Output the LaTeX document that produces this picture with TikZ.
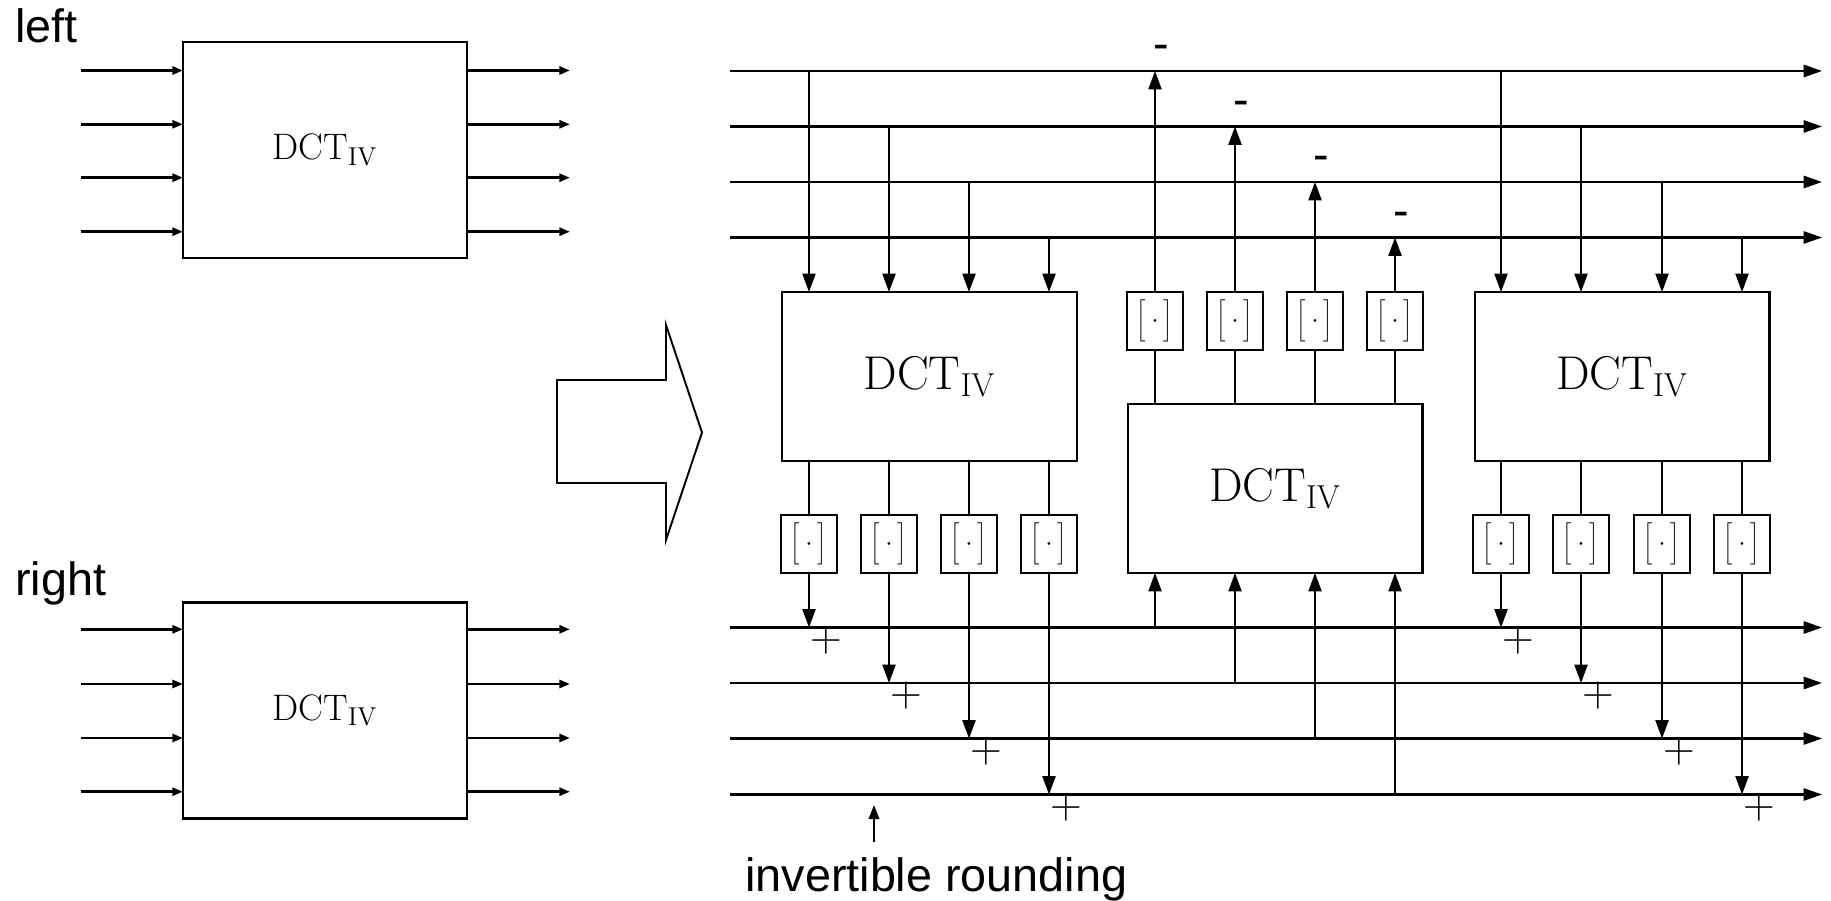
\RequirePackage{fix-cm}
\documentclass[tikz,border=0pt]{standalone}
\usepackage{fontspec}
\newfontfamily\arialf{Liberation Sans}
\usetikzlibrary{arrows.meta}
\newcommand\dctlabel{$\mathrm{DCT}_{\mathrm{IV}}$}
\newcommand\rndlabel{$\delimitershortfall=0pt\delimiterfactor=1000\left[\vcenter{\hbox{\rule{0pt}{24pt}}}\mkern3.5mu\cdot\mkern3.5mu\right]$}
\begin{document}
\begin{tikzpicture}[x=0.02cm,y=-0.02cm,
  sansl/.style={font=\arialf\fontsize{26.6}{32}\selectfont, inner sep=0pt, anchor=base west},
  minus/.style={font=\arialf\fontsize{26.6}{32}\selectfont, inner sep=0pt, anchor=base},
  plus/.style={font=\fontsize{25}{28}\selectfont, inner sep=0pt},
  lbox/.style={draw, line width=1.4pt, inner sep=0pt, outer sep=0pt, minimum width=5.68cm, minimum height=4.32cm, font=\fontsize{21}{24}\selectfont},
  bigbox/.style={draw, line width=1.15pt, inner sep=0pt, outer sep=0pt, minimum width=5.9cm, minimum height=3.38cm, font=\fontsize{27}{30}\selectfont},
  rbox/.style={draw, line width=1.15pt, inner sep=0pt, outer sep=0pt, minimum width=1.12cm, minimum height=1.16cm, font=\fontsize{15}{18}\selectfont},
  larr/.style={line width=1.5pt, -{Triangle[length=6pt,width=4.5pt]}},
  harr/.style={line width=1.25pt, -{Triangle[length=10.5pt,width=7pt]}},
  varr/.style={line width=1pt, -{Triangle[length=10.5pt,width=7.5pt]}},
  vline/.style={line width=1pt},
  bigarrow/.style={line width=1.1pt, line join=miter}
]
\useasboundingbox (0,0) rectangle (1831,901);

% ---------- left part ----------
\node[sansl] (lefttxt) at (15,43) {left};
\node[sansl] (righttxt) at (15,595) {right};

\node[lbox] (topbox) at (325,150) {\dctlabel};
\foreach \i/\y in {1/70.5,2/124.3,3/177.7,4/231.7} {
  \coordinate (tli\i) at (80.5,\y);
  \coordinate (tlo\i) at (570,\y);
  \draw[larr] (tli\i) -- (tli\i -| topbox.west);
  \draw[larr] (tlo\i -| topbox.east) -- (tlo\i);
}
\node[lbox] (botbox) at (325,710.3) {\dctlabel};
\foreach \i/\y in {1/629.3,2/684,3/738,4/791.7} {
  \coordinate (bli\i) at (80.5,\y);
  \coordinate (blo\i) at (570,\y);
  \draw[larr] (bli\i) -- (bli\i -| botbox.west);
  \draw[larr] (blo\i -| botbox.east) -- (blo\i);
}

% ---------- big arrow ----------
\draw[bigarrow] (557,380) -- (666,380) -- (666,325) -- (702,432.5) -- (666,540) -- (666,483) -- (557,483) -- cycle;

% ---------- right part ----------
\foreach \i/\y in {1/71,2/126.5,3/182,4/237.5} {
  \coordinate (ts\i) at (730,\y);
  \coordinate (te\i) at (1822,\y);
  \draw[harr] (ts\i) -- (te\i);
}
\foreach \i/\y in {1/627.5,2/683,3/738.5,4/794.5} {
  \coordinate (bs\i) at (730,\y);
  \coordinate (be\i) at (1822,\y);
  \draw[harr] (bs\i) -- (be\i);
}

\node[bigbox] (dL) at (929.5,376.5) {\dctlabel};
\node[bigbox] (dM) at (1275,488.5) {\dctlabel};
\node[bigbox] (dR) at (1622,376.5) {\dctlabel};

% left DCT column
\foreach \i/\x in {1/809,2/889,3/969,4/1049} {
  \node[rbox] (rL\i) at (\x,544) {\rndlabel};
  \draw[varr] (rL\i |- ts\i) -- (rL\i |- dL.north);
  \draw[vline] (rL\i |- dL.south) -- (rL\i.north);
  \draw[varr] (rL\i.south) -- (rL\i |- bs\i);
  \path (rL\i |- bs\i) ++(17,13) node[plus] (pL\i) {$+$};
}
% middle DCT column
\foreach \i/\x in {1/1155,2/1235,3/1315,4/1395} {
  \node[rbox] (rM\i) at (\x,321) {\rndlabel};
  \draw[varr] (rM\i |- bs\i) -- (rM\i |- dM.south);
  \draw[vline] (rM\i |- dM.north) -- (rM\i.south);
  \draw[varr] (rM\i.north) -- (rM\i |- ts\i);
  \path (rM\i |- ts\i) ++(6,-11) node[minus] (mM\i) {-};
}
% right DCT column
\foreach \i/\x in {1/1501,2/1581,3/1662,4/1742} {
  \node[rbox] (rR\i) at (\x,544) {\rndlabel};
  \draw[varr] (rR\i |- ts\i) -- (rR\i |- dR.north);
  \draw[vline] (rR\i |- dR.south) -- (rR\i.north);
  \draw[varr] (rR\i.south) -- (rR\i |- bs\i);
  \path (rR\i |- bs\i) ++(17,13) node[plus] (pR\i) {$+$};
}

% invertible rounding
\node[sansl] (inv) at (745,891) {invertible rounding};
\coordinate (invtail) at (874,842);
\coordinate (invtip) at (874,805);
\draw[line width=1.1pt, -{Triangle[length=8pt,width=6pt]}] (invtail) -- (invtip);
\end{tikzpicture}
\end{document}
